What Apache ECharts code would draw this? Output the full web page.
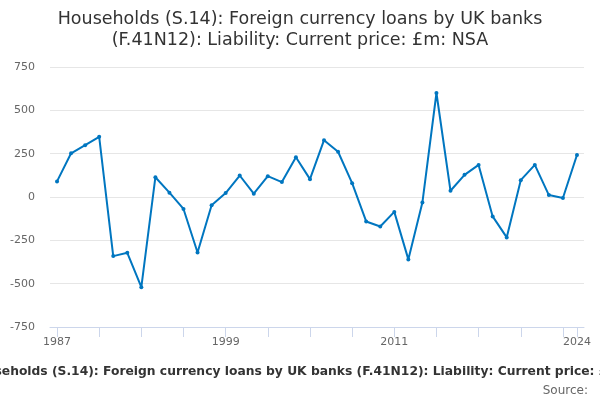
<!DOCTYPE html>
<html>
<head>
<meta charset="utf-8">
<script src="https://cdn.jsdelivr.net/npm/echarts@6/dist/echarts.min.js"></script>
<style>html,body{margin:0;padding:0;background:#fff}#c{width:600px;height:400px}</style>
</head>
<body>
<div id="c"></div>
<script>
const years = ["1987","1988","1989","1990","1991","1992","1993","1994","1995","1996","1997","1998","1999","2000","2001","2002","2003","2004","2005","2006","2007","2008","2009","2010","2011","2012","2013","2014","2015","2016","2017","2018","2019","2020","2021","2022","2023","2024"];
const values = [90,252,299,347,-341,-322,-520,114,25,-69,-320,-48,23,124,19,120,86,229,103,328,261,80,-141,-170,-86,-360,-32,600,36,128,185,-112,-233,97,185,11,-6,242];
const labelYears = ["1987","1999","2011","2024"];
const titleText = "Households (S.14): Foreign currency loans by UK banks\n(F.41N12): Liability: Current price: £m: NSA";
const subtitleText = "Households (S.14): Foreign currency loans by UK banks (F.41N12): Liability: Current price: £m: NSA";
const sourceText = "Source:";

const chart = echarts.init(document.getElementById('c'), null, {renderer: 'canvas'});
const last = years.length - 1;
chart.setOption({
  animation: false,
  title: [{
    text: titleText,
    left: 'center', top: 4,
    textStyle: {fontFamily: 'DejaVu Sans', fontSize: 17.5, fontWeight: 'normal', color: '#333', lineHeight: 21}
  }],
  graphic: [
    {type: 'text', left: -33, top: 366, style: {text: subtitleText, font: 'bold 12.3px "DejaVu Sans"', fill: '#333'}},
    {type: 'text', right: 12, top: 385, style: {text: sourceText, font: '12px "DejaVu Sans"', fill: '#666'}}
  ],
  grid: {left: 50, right: 16, top: 67, bottom: 73, containLabel: false},
  xAxis: {
    type: 'category',
    data: years,
    boundaryGap: true,
    axisLine: {onZero: false, lineStyle: {color: '#ccd6eb'}},
    axisTick: {show: true, alignWithLabel: true, length: 10, lineStyle: {color: '#ccd6eb', width: 1},
      interval: (i) => i % 3 === 0 || i === last},
    axisLabel: {color: '#666', fontFamily: 'DejaVu Sans', fontSize: 11, margin: 10,
      interval: (i, v) => labelYears.indexOf(v) >= 0},
    splitLine: {show: false}
  },
  yAxis: {
    type: 'value',
    min: -750, max: 750, interval: 250,
    axisLine: {show: false},
    axisTick: {show: false},
    axisLabel: {color: '#666', fontFamily: 'DejaVu Sans', fontSize: 11, margin: 15},
    splitLine: {lineStyle: {color: '#e6e6e6'}}
  },
  series: [{
    type: 'line',
    data: values,
    itemStyle: {color: '#0076c0'},
    lineStyle: {color: '#0076c0', width: 2},
    symbol: 'circle',
    symbolSize: 4,
    showSymbol: true
  }]
});
</script>
</body>
</html>
